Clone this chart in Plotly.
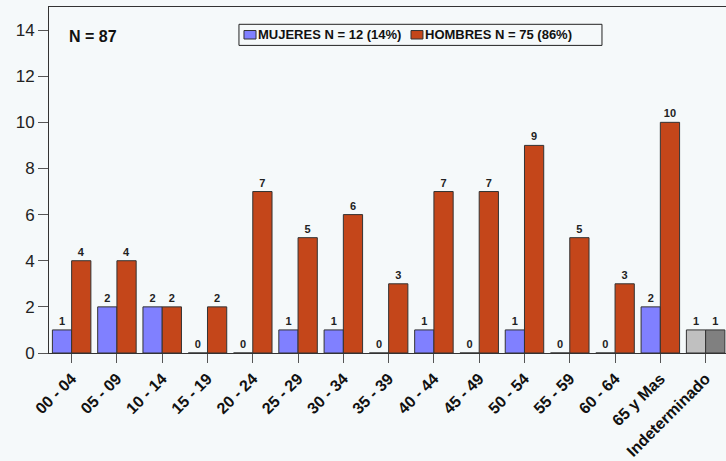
import plotly.graph_objects as go

categories = ["00 - 04", "05 - 09", "10 - 14", "15 - 19", "20 - 24", "25 - 29", "30 - 34",
              "35 - 39", "40 - 44", "45 - 49", "50 - 54", "55 - 59", "60 - 64", "65 y Mas",
              "Indeterminado"]
mujeres = [1, 2, 2, 0, 0, 1, 1, 0, 1, 0, 1, 0, 0, 2, 1]
hombres = [4, 4, 2, 2, 7, 5, 6, 3, 7, 7, 9, 5, 3, 10, 1]
y_ticks = [0, 2, 4, 6, 8, 10, 12, 14]
legend_labels = ["MUJERES N = 12 (14%)", "HOMBRES N = 75 (86%)"]

C_MUJ = "#8080FF"
C_HOM = "#C4461A"
muj_colors = [C_MUJ] * (len(categories) - 1) + ["#C0C0C0"]
hom_colors = [C_HOM] * (len(categories) - 1) + ["#808080"]

FONT = "Liberation Sans, Arial, sans-serif"
BG = "#F5F9FA"
EDGE = "#333333"

fig = go.Figure()
for vals, cols, name in [(mujeres, muj_colors, legend_labels[0]),
                         (hombres, hom_colors, legend_labels[1])]:
    fig.add_trace(go.Bar(
        x=categories, y=vals, name=name, showlegend=False,
        marker=dict(color=cols, line=dict(color=EDGE, width=1)),
        texttemplate="%{y}", textposition="outside", cliponaxis=False,
        textfont=dict(family=FONT, size=11, color="#222222", weight="bold"),
    ))

# legend drawn as a boxed key (paper coordinates)
shapes = [
    dict(type="rect", xref="paper", yref="paper", x0=0.2806, x1=0.8168, y0=0.889, y1=0.950,
         line=dict(color="#222222", width=1), fillcolor=BG, layer="above"),
    dict(type="rect", xref="paper", yref="paper", x0=0.2880, x1=0.3058, y0=0.9075, y1=0.9320,
         line=dict(color=EDGE, width=1), fillcolor=C_MUJ, layer="above"),
    dict(type="rect", xref="paper", yref="paper", x0=0.5347, x1=0.5524, y0=0.9075, y1=0.9320,
         line=dict(color=EDGE, width=1), fillcolor=C_HOM, layer="above"),
]
annotations = [
    dict(text="N = 87", xref="paper", yref="paper", x=0.026, y=0.915,
         xanchor="left", yanchor="middle", showarrow=False,
         font=dict(family=FONT, size=16, color="#111111", weight="bold")),
    dict(text=legend_labels[0], xref="paper", yref="paper", x=0.3087, y=0.9195,
         xanchor="left", yanchor="middle", showarrow=False, xshift=-2,
         font=dict(family=FONT, size=13, color="#111111", weight="bold")),
    dict(text=legend_labels[1], xref="paper", yref="paper", x=0.5554, y=0.9195,
         xanchor="left", yanchor="middle", showarrow=False, xshift=-2,
         font=dict(family=FONT, size=13, color="#111111", weight="bold")),
]

fig.update_layout(
    width=726, height=461,
    margin=dict(l=49, r=0, t=7, b=108),
    paper_bgcolor=BG, plot_bgcolor=BG,
    barmode="group", bargap=0.15, bargroupgap=0,
    showlegend=False,
    xaxis=dict(
        range=[-0.5, 14.45], showgrid=False, showline=True, linecolor=EDGE,
        mirror=True, ticks="outside", ticklen=9, tickcolor="#555555",
        tickangle=-45,
        tickfont=dict(family=FONT, size=16, color="#111111", weight="bold"),
    ),
    yaxis=dict(
        range=[0, 15], showgrid=False, zeroline=False, showline=True, linecolor=EDGE,
        mirror=True, ticks="outside", ticklen=10, tickcolor="#555555",
        tickvals=y_ticks, tickfont=dict(family=FONT, size=17, color="#222222"),
    ),
    shapes=shapes,
    annotations=annotations,
)

fig.write_html("out.html", config={"displayModeBar": False},
               post_script="document.body.style.margin='0';")
